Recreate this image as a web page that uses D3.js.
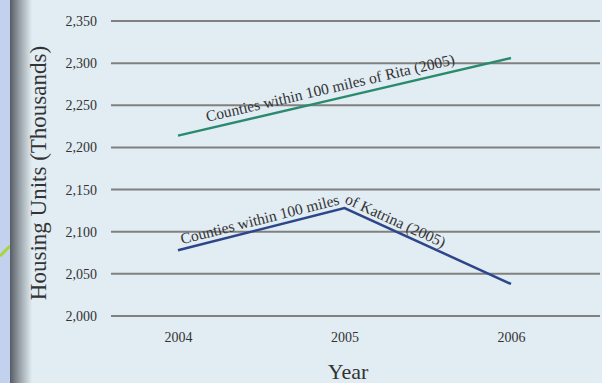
<!DOCTYPE html>
<html>
<head>
<meta charset="utf-8">
<script src="https://cdn.jsdelivr.net/npm/d3@7"></script>
<style>
  body { margin: 0; background: #e1ecf3; }
  svg { display: block; }
  text { font-family: "Liberation Serif", "DejaVu Serif", serif; fill: #333; }
</style>
</head>
<body>
<script>
// data
const years = [2004, 2005, 2006];
const rita = [2214, 2260, 2306];
const katrina = [2078, 2128, 2038];
const yTicks = [2000, 2050, 2100, 2150, 2200, 2250, 2300, 2350];
const ritaLabel = "Counties within 100 miles of Rita (2005)";
const katrinaLabel = "Counties within 100 miles of Katrina (2005)";

const width = 602, height = 383;
const svg = d3.select("body").append("svg")
  .attr("width", width).attr("height", height);

const defs = svg.append("defs");
const shade = defs.append("linearGradient").attr("id", "shade")
  .attr("x1", "0").attr("x2", "1").attr("y1", "0").attr("y2", "0");
shade.append("stop").attr("offset", "0").attr("stop-color", "#565c63");
shade.append("stop").attr("offset", "0.45").attr("stop-color", "#9aa2a9");
shade.append("stop").attr("offset", "1").attr("stop-color", "#e1ecf3");

// background + left strip
svg.append("rect").attr("width", width).attr("height", height).attr("fill", "#e1ecf3");
svg.append("rect").attr("width", 10).attr("height", height).attr("fill", "#c1d1ee");
svg.append("path").attr("d", "M0,256 Q5,251 10,246").attr("stroke", "#a9d43a")
  .attr("stroke-width", 3).attr("fill", "none");
svg.append("rect").attr("x", 10).attr("width", 22).attr("height", height).attr("fill", "url(#shade)");

const x = d3.scaleLinear().domain([2004, 2006]).range([178, 511]);
const y = d3.scaleLinear().domain([2000, 2350]).range([316, 21]);

// gridlines
svg.append("g").selectAll("line").data(yTicks).join("line")
  .attr("x1", 111).attr("x2", 600)
  .attr("y1", d => y(d)).attr("y2", d => y(d))
  .attr("stroke", "#808080").attr("stroke-width", 2);

// y axis labels
const yAxis = svg.append("g").attr("transform", "translate(111,0)")
  .call(d3.axisLeft(y).tickValues(yTicks).tickFormat(d3.format(",")).tickSize(0).tickPadding(14));
yAxis.select(".domain").remove();
yAxis.selectAll("text").attr("font-size", 14).attr("fill", "#333")
  .style("font-family", "Liberation Serif, serif");

// x axis labels
const xAxis = svg.append("g").attr("transform", "translate(0,316)")
  .call(d3.axisBottom(x).tickValues(years).tickFormat(d3.format("d")).tickSize(0).tickPadding(16));
xAxis.select(".domain").remove();
xAxis.selectAll("text").attr("font-size", 14).attr("fill", "#333")
  .style("font-family", "Liberation Serif, serif");

// axis titles
svg.append("text").attr("x", 348).attr("y", 379).attr("text-anchor", "middle")
  .attr("font-size", 22).text("Year");
svg.append("text").attr("transform", "translate(46,173) rotate(-90)")
  .attr("text-anchor", "middle").attr("font-size", 23).text("Housing Units (Thousands)");

const line = d3.line().x((d, i) => x(years[i])).y(d => y(d));

const series = [
  { id: "rita", values: rita, color: "#2a8a6e", label: ritaLabel, offset: 30, lift: 7 },
  { id: "katrina", values: katrina, color: "#2d4689", label: katrinaLabel, offset: 4, lift: 5 }
];

series.forEach(s => {
  svg.append("path").attr("d", line(s.values)).attr("fill", "none")
    .attr("stroke", s.color).attr("stroke-width", 2.5);
  const shifted = d3.line().x((d, i) => x(years[i])).y(d => y(d) - s.lift);
  defs.append("path").attr("id", "p-" + s.id).attr("d", shifted(s.values));
  svg.append("text").attr("font-size", 15.5)
    .append("textPath").attr("href", "#p-" + s.id).attr("startOffset", s.offset)
    .text(s.label);
});
</script>
</body>
</html>
